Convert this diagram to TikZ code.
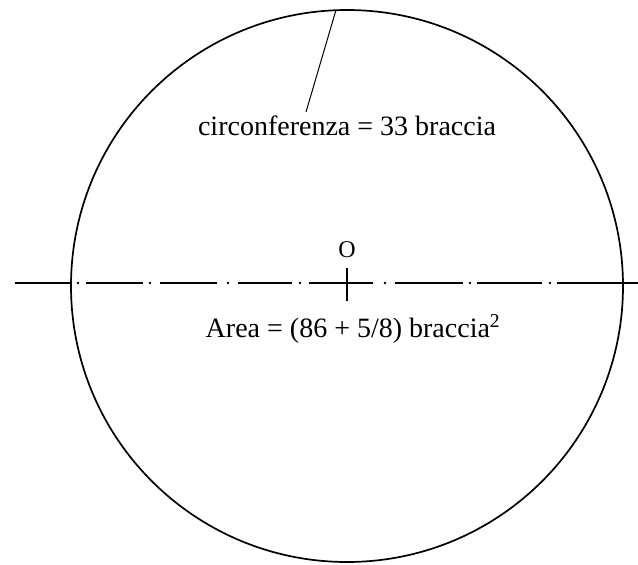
\documentclass[tikz,border=0pt]{standalone}
\usepackage{fontspec}
\setmainfont{Liberation Serif}
\begin{document}
\begin{tikzpicture}[x=1pt,y=-1pt,
  outline/.style={line width=1.7pt,black},
  axisline/.style={line width=1.9pt,black},
  dotmark/.style={fill=black,inner sep=0pt,minimum size=2.6pt,circle},
  lbl/.style={font=\fontsize{28}{32}\selectfont,inner sep=0pt,anchor=base}]
\useasboundingbox (0,0) rectangle (638,565);
% circle
\draw[outline] (347,286) circle[radius=276];
% centre line (dash-dot)
\foreach \a/\b in {15/72,86/143,160/217,238/292,309/373,395/463,477/542,557/638}
  \draw[axisline] (\a,283) -- (\b,283);
\foreach \d in {78,150,228,300,385,470,550}
  \node[dotmark] at (\d,283) {};
% centre tick
\coordinate (tickTop) at (347,268);
\coordinate (tickBot) at (347,301);
\draw[axisline] (tickTop) -- (tickBot);
% labels
\node[lbl,font=\fontsize{24}{28}\selectfont] (O) at (347,257) {O};
\node[lbl] (circ) at (347,135) {circonferenza = 33 braccia};
\node[lbl] (area) at (353,337) {Area = (86 + 5/8) braccia\textsuperscript{2}};
% leader
\coordinate (top) at (336,10);
\coordinate (leadEnd) at (306,112);
\draw[line width=1pt] (top) -- (leadEnd);
\end{tikzpicture}
\end{document}
